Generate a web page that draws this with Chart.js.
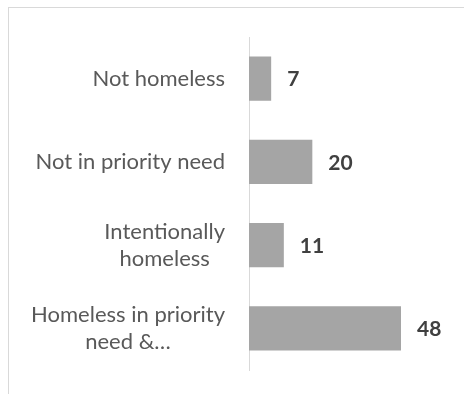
<!DOCTYPE html>
<html>
<head>
<meta charset="utf-8">
<script src="https://cdn.jsdelivr.net/npm/chart.js@4.4.1/dist/chart.umd.min.js"></script>
<style>
  html, body { margin: 0; padding: 0; background: #ffffff; overflow: hidden; }
  #wrap { position: relative; width: 464px; height: 394px; }
  #frame { position: absolute; left: 8px; top: 7px; width: 600px; height: 600px;
           border: 1px solid #d9d9d9; box-sizing: border-box; }
  #chart { position: absolute; left: 0; top: 0; }
</style>
</head>
<body>
<div id="wrap">
  <div id="frame"></div>
  <canvas id="chart" width="464" height="394"></canvas>
</div>
<script>
// Categories (each entry is an array of wrapped lines) and their counts
const categories = [
  ['Not homeless'],
  ['Not in priority need'],
  ['Intentionally', 'homeless'],
  ['Homeless in priority', 'need &\u2026']
];
const counts = [7, 20, 11, 48];

const LABEL_FONT = 'Lato, "Open Sans", sans-serif';

// Category labels: right-aligned block, wrapped lines centred within the block
const categoryLabels = {
  id: 'categoryLabels',
  afterDraw(chart) {
    const { ctx, scales: { y } } = chart;
    const rightEdge = y.right - 24;
    const lineGap = 27;
    ctx.save();
    ctx.font = '22px ' + LABEL_FONT;
    ctx.fillStyle = '#595959';
    ctx.textBaseline = 'middle';
    ctx.textAlign = 'center';
    categories.forEach((lines, i) => {
      const cy = y.getPixelForValue(i);
      const w = Math.max(...lines.map(l => ctx.measureText(l).width));
      const cx = rightEdge - w / 2;
      const top = cy - (lines.length - 1) * lineGap / 2;
      lines.forEach((l, k) => ctx.fillText(l, cx, top + k * lineGap));
    });
    ctx.restore();
  }
};

// Bold count printed just past the end of each bar
const valueLabels = {
  id: 'valueLabels',
  afterDatasetsDraw(chart) {
    const { ctx } = chart;
    const meta = chart.getDatasetMeta(0);
    ctx.save();
    ctx.font = 'bold 21px ' + LABEL_FONT;
    ctx.fillStyle = '#404040';
    ctx.textBaseline = 'middle';
    ctx.textAlign = 'left';
    meta.data.forEach((bar, i) => {
      ctx.fillText(String(counts[i]), bar.x + 16, bar.y + 1);
    });
    ctx.restore();
  }
};

new Chart(document.getElementById('chart'), {
  type: 'bar',
  data: {
    labels: categories.map(c => c.join(' ')),
    datasets: [{
      data: counts,
      backgroundColor: '#a5a5a5',
      borderWidth: 0,
      barPercentage: 0.53,
      categoryPercentage: 1
    }]
  },
  options: {
    indexAxis: 'y',
    responsive: false,
    animation: false,
    events: [],
    layout: { padding: { left: 0, right: 25, top: 37, bottom: 24 } },
    plugins: { legend: { display: false }, tooltip: { enabled: false } },
    scales: {
      x: { display: false, min: 0, max: 60 },
      y: {
        position: 'left',
        grid: { display: false },
        border: { display: true, color: '#d9d9d9', width: 1 },
        ticks: { display: false },
        afterFit(scale) { scale.width = 249; }
      }
    }
  },
  plugins: [categoryLabels, valueLabels]
});
</script>
</body>
</html>
